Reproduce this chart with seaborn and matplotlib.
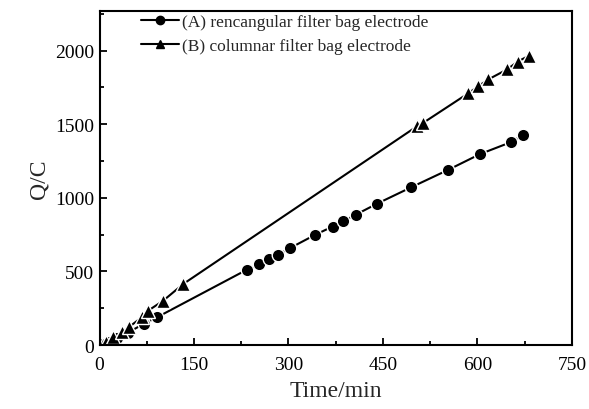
import matplotlib
matplotlib.use("Agg")
import matplotlib.pyplot as plt
import seaborn as sns
import pandas as pd
from matplotlib.ticker import MultipleLocator

sns.set_theme(style="ticks")
plt.rcParams['font.family'] = ['Liberation Serif', 'DejaVu Serif']
plt.rcParams['mathtext.fontset'] = 'stix'

label_a = "(A) rencangular filter bag electrode"
label_b = "(B) columnar filter bag electrode"

time_a = [5, 15, 28, 45, 70, 91, 234, 253, 269, 283, 303, 342, 370, 387, 407, 440, 495, 553, 604, 653, 672]
q_a = [5, 20, 45, 85, 143, 188, 512, 549, 587, 612, 660, 748, 805, 841, 886, 959, 1072, 1189, 1297, 1378, 1426]

time_b = [5, 11, 22, 35, 46, 67, 77, 101, 133, 504, 513, 585, 601, 617, 647, 664, 682]
q_b = [5, 18, 52, 86, 120, 188, 233, 301, 415, 1486, 1507, 1709, 1757, 1804, 1872, 1926, 1966]

df_a = pd.DataFrame({"t": time_a, "q": q_a})
df_b = pd.DataFrame({"t": time_b, "q": q_b})

fig = plt.figure(figsize=(5.89, 4.10), dpi=100)
ax = fig.add_axes([0.169, 0.156, 0.802, 0.815])

common = dict(color="black", linewidth=1.5, markeredgecolor="white",
              markeredgewidth=1.0, ax=ax)
sns.lineplot(data=df_a, x="t", y="q", marker="o", markersize=9,
             label=label_a, dashes=False, **common)
sns.lineplot(data=df_b, x="t", y="q", marker="^", markersize=10.5,
             label=label_b, dashes=False, **common)

ax.set_xlim(0, 750)
ax.set_ylim(0, 2270)
ax.xaxis.set_major_locator(MultipleLocator(150))
ax.xaxis.set_minor_locator(MultipleLocator(75))
ax.yaxis.set_major_locator(MultipleLocator(500))
ax.yaxis.set_minor_locator(MultipleLocator(250))
ax.tick_params(which="both", direction="in", width=1.3, colors="black",
               labelsize=14, top=False, right=False)
ax.tick_params(which="major", length=5)
ax.tick_params(which="minor", length=3)
ax.tick_params(axis="x", pad=8)
ax.tick_params(axis="y", pad=4)
for s in ax.spines.values():
    s.set_linewidth(1.5)
    s.set_color("black")

ax.set_xlabel("Time/min", fontsize=17, labelpad=5)
ax.set_ylabel("Q/C", fontsize=17, labelpad=4)

leg = ax.legend(loc="upper left", frameon=False, fontsize=12.5,
                handlelength=2.2, handletextpad=0.15, borderaxespad=0.0,
                borderpad=0.0, labelspacing=0.45,
                bbox_to_anchor=(0.088, 0.99))
for h in leg.legend_handles:
    h.set_markersize(6)
    h.set_markeredgecolor("black")

fig.savefig("out.png", dpi=100)
